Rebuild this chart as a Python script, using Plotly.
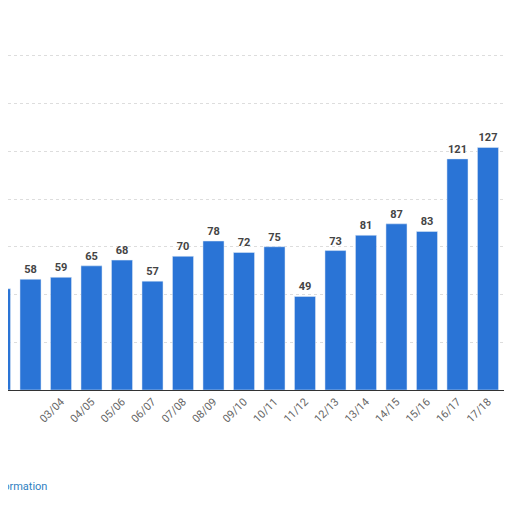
import plotly.graph_objects as go

seasons = ["01/02","02/03","03/04","04/05","05/06","06/07","07/08","08/09","09/10",
           "10/11","11/12","12/13","13/14","14/15","15/16","16/17","17/18","18/19"]
values = [53,58,59,65,68,57,70,78,72,75,49,73,81,87,83,121,127,148]

idx = list(range(len(seasons)))
fig = go.Figure(go.Bar(
    x=idx, y=values, width=0.69, marker_color="#2a74d6",
    text=["<b>%d</b>" % v for v in values], textposition="outside", cliponaxis=False,
    textfont=dict(family="Roboto", size=11, color="#444444"),
))
fig.update_layout(
    width=512, height=512, margin=dict(l=0, r=0, t=0, b=130, autoexpand=False),
    plot_bgcolor="white", paper_bgcolor="white", showlegend=False, bargap=0.3,
    xaxis=dict(range=[0.262, 17.05], tickmode="array", tickvals=idx, ticktext=seasons,
               tickangle=-45, tickfont=dict(family="Roboto", size=11, color="#666666"),
               showline=True, linecolor="#333333", linewidth=1, showgrid=False, ticks="",
               automargin=False),
    yaxis=dict(range=[0, 200], dtick=25, showticklabels=False, showgrid=True,
               gridcolor="#dddddd", griddash="dot", zeroline=False, automargin=False),
    annotations=[
        dict(text="Additional Information", x=41/512, y=-96/382, xref="paper", yref="paper",
             xanchor="right", yanchor="middle", showarrow=False,
             font=dict(family="Roboto", size=11, color="#2f7fc1")),
        dict(text="©", x=503/512, y=-75/382, xref="paper", yref="paper",
             xanchor="left", yanchor="middle", showarrow=False,
             font=dict(family="Roboto", size=11, color="#2f7fc1")),
    ],
)
fig.write_html("out.html")
